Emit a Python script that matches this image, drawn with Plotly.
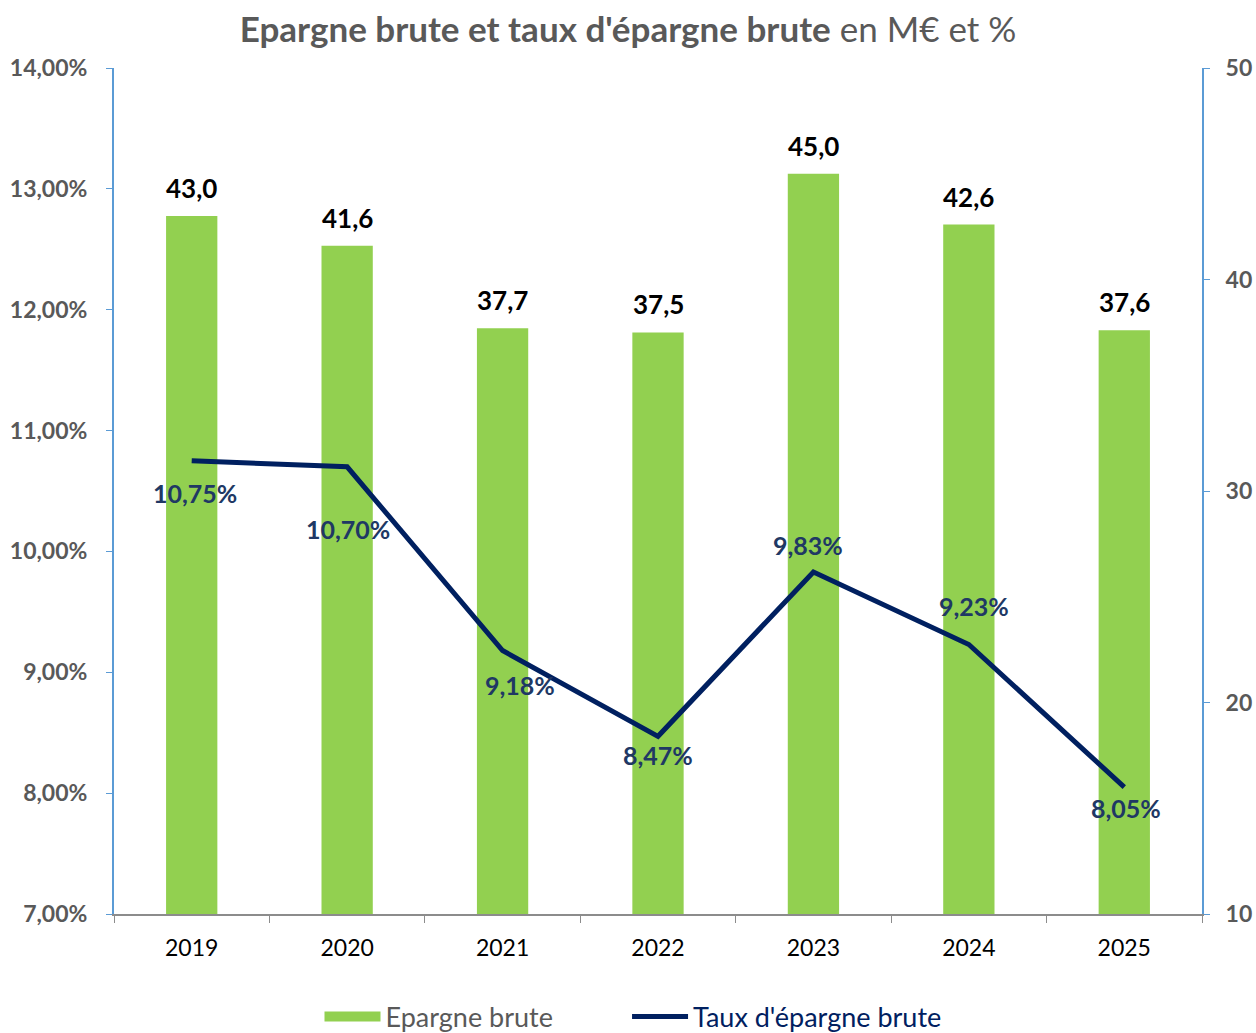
import plotly.graph_objects as go

years = ["2019", "2020", "2021", "2022", "2023", "2024", "2025"]
epargne_brute = [43.0, 41.6, 37.7, 37.5, 45.0, 42.6, 37.6]
taux_epargne = [0.1075, 0.1070, 0.0918, 0.0847, 0.0983, 0.0923, 0.0805]
# label offsets (px) for the rate labels
label_dx = [3, 1, 17, 0, -5, 5, 2]
label_dy = [-32, -62, -34, -19, 27, 38, -21]

FONT = "Lato"
GREY = "#595959"
GREEN = "#92D050"
NAVY = "#002060"
LABEL_NAVY = "#203864"
AXIS_BLUE = "#5B9BD5"

W, H = 1256, 1033

fig = go.Figure()

fig.add_trace(go.Bar(
    x=years, y=epargne_brute, name="Epargne brute",
    marker=dict(color=GREEN, line=dict(width=0)),
    yaxis="y", showlegend=False,
))

# legend proxy for the bars (wide rectangle symbol)
fig.add_trace(go.Scatter(
    x=[None], y=[None], name="Epargne brute" + "\u00a0" * 10, mode="lines",
    line=dict(color=GREEN, width=20), yaxis="y", showlegend=True,
))

fig.add_trace(go.Scatter(
    x=years, y=taux_epargne, name=f"<span style='color:{NAVY}'>Taux d'épargne brute</span>",
    mode="lines", line=dict(color=NAVY, width=5), yaxis="y2",
))

for i, v in enumerate(epargne_brute):
    fig.add_annotation(
        x=i, y=v, xref="x", yref="y", text=f"<b>{v:.1f}</b>".replace(".", ","),
        showarrow=False, yanchor="bottom", yshift=10,
        font=dict(family=FONT, size=26, color="#000000"),
    )

for i, (v, dx, dy) in enumerate(zip(taux_epargne, label_dx, label_dy)):
    fig.add_annotation(
        x=i, y=v, xref="x", yref="y2", text=f"<b>{v*100:.2f}%</b>".replace(".", ","),
        showarrow=False, xshift=dx, yshift=dy,
        font=dict(family=FONT, size=25, color=LABEL_NAVY),
    )

fig.update_layout(
    width=W, height=H,
    margin=dict(l=114, r=54, t=68, b=119, autoexpand=False),
    paper_bgcolor="white", plot_bgcolor="white",
    separators=", ",
    bargap=0.67,
    font=dict(family=FONT, color=GREY),
    title=dict(
        text="<b>Epargne brute et taux d'épargne brute</b> en M€ et %",
        x=628 / W, xref="container", xanchor="center",
        y=1 - 30 / H, yref="container", yanchor="middle",
        font=dict(family=FONT, size=35, color=GREY),
    ),
    xaxis=dict(
        type="category", categoryorder="array", categoryarray=years,
        range=[-0.5, len(years) - 0.5], autorange=False, automargin=False,
        showline=True, linecolor="#8C8C8C", linewidth=2,
        ticks="outside", tickson="boundaries", ticklen=7, tickcolor="#8C8C8C",
        tickfont=dict(family=FONT, size=23, color="#000000"), showgrid=False,
        zeroline=False, tickangle=0, ticklabelstandoff=12,
    ),
    yaxis=dict(
        side="right", range=[10, 50], dtick=10, showgrid=False, zeroline=False,
        showline=True, linecolor=AXIS_BLUE, linewidth=2, automargin=False,
        ticks="outside", ticklen=6, tickcolor=AXIS_BLUE,
        tickfont=dict(family=FONT, size=23, color=GREY),
        tickprefix="<b>", ticksuffix="</b>", ticklabelstandoff=11,
    ),
    yaxis2=dict(
        side="left", overlaying="y", range=[0.07, 0.14], dtick=0.01,
        tickformat=".2%", showgrid=False, zeroline=False, automargin=False,
        showline=True, linecolor=AXIS_BLUE, linewidth=2,
        ticks="outside", ticklen=6, tickcolor=AXIS_BLUE,
        tickfont=dict(family=FONT, size=23, color=GREY),
        tickprefix="<b>", ticksuffix="</b>", ticklabelstandoff=14,
    ),
    legend=dict(
        orientation="h", x=633 / W, xref="container", xanchor="center",
        y=1 - 1017 / H, yref="container", yanchor="middle",
        font=dict(family=FONT, size=27, color=GREY),
        itemwidth=56, traceorder="normal",
    ),
    showlegend=True,
)

fig.write_html(
    "out.html",
    config={"displayModeBar": False},
    post_script="document.body.style.margin='0px';document.body.style.overflow='hidden';",
)
